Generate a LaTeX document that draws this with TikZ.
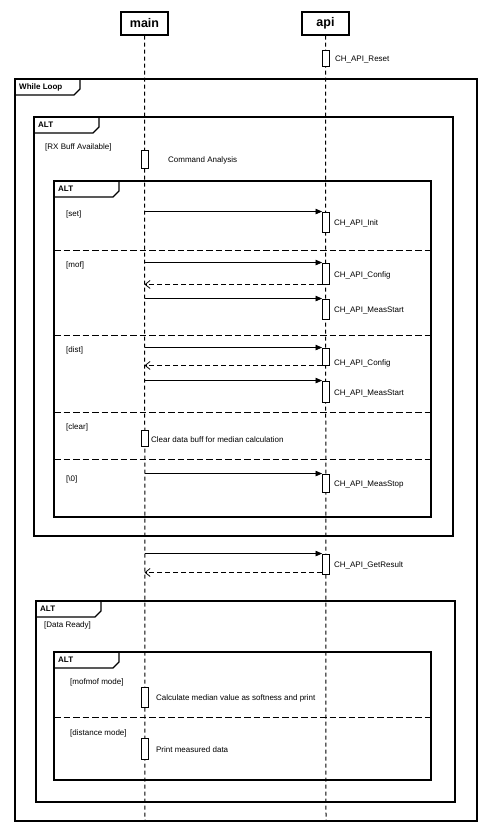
\documentclass[tikz,border=0pt]{standalone}
\usepackage{fontspec}
\setmainfont{Liberation Sans}
\usepackage{tikz}
\usetikzlibrary{arrows.meta,positioning}

\newcommand{\lblfont}{\fontsize{8}{9.5}\selectfont}

\begin{document}
\begin{tikzpicture}[x=1pt,y=-1pt,
    head/.style={draw,line width=1.1pt,minimum width=47pt,minimum height=23pt,inner sep=0pt,font=\bfseries\fontsize{12.5}{14}\selectfont},
    act/.style={draw,fill=white,line width=0.9pt,minimum width=7pt,inner sep=0pt},
    lbl/.style={inner sep=1pt,anchor=west,yshift=-1.5pt,font=\lblfont},
    guard/.style={inner sep=0pt,anchor=west,font=\lblfont},
    ftag/.style={inner sep=0pt,anchor=west,font=\bfseries\lblfont},
    life/.style={line width=1pt,dash pattern=on 4pt off 3pt},
    frm/.style={line width=1.2pt},
    sep/.style={line width=1pt,dash pattern=on 6.5pt off 3pt},
    msg/.style={line width=0.8pt,-{Triangle[length=6.5pt,width=5.5pt]}},
    ret/.style={line width=0.8pt,dash pattern=on 5pt off 3pt,-{Straight Barb[length=5pt,width=8pt]}}]
  \useasboundingbox (0,0) rectangle (495,832);

  % frames
  \foreach \fx/\fy/\gx/\gy/\ft [count=\i] in {15/79/477/821/While Loop,
      34/117/453/536/ALT, 54/181/431/517/ALT, 36/601/455/802/ALT, 54/652/431/780/ALT} {
    \draw[frm] (\fx,\fy) rectangle (\gx,\gy);
    \draw[frm] (\fx+65,\fy) -- (\fx+65,\fy+10) -- (\fx+59,\fy+16) -- (\fx,\fy+16);
    \node[ftag] (tag\i) at (\fx+4,\fy+8) {\ft};
  }
  \draw[sep] (54,250) -- (431,250);
  \draw[sep] (54,335) -- (431,335);
  \draw[sep] (54,412) -- (431,412);
  \draw[sep] (54,459) -- (431,459);
  \draw[sep] (54,717) -- (431,717);

  % guards
  \node[guard] (gRx)    at (45,147)  {[RX Buff Available]};
  \node[guard] (gSet)   at (66,214)  {[set]};
  \node[guard] (gMof)   at (66,265)  {[mof]};
  \node[guard] (gDist)  at (66,350)  {[dist]};
  \node[guard] (gClear) at (66,427)  {[clear]};
  \node[guard] (gStop)  at (66,479)  {[\textbackslash 0]};
  \node[guard] (gData)  at (44,625)  {[Data Ready]};
  \node[guard] (gMofm)  at (70,682)  {[mofmof mode]};
  \node[guard] (gDistm) at (70,733)  {[distance mode]};

  % lifelines
  \node[head] (main) at (144.5,23.5) {main};
  \node[head] (api)  at (325.5,23.5) {api};
  \coordinate (mainEnd) at (145,821);
  \coordinate (apiEnd)  at (326,821);
  \draw[life] (main.south) -- (mainEnd);
  \draw[life] (api.south) -- (apiEnd);

  % activations
  \node[act,minimum height=16pt] (reset)  at (326,58)    {};
  \node[act,minimum height=18pt] (cmd)    at (145,159)   {};
  \node[act,minimum height=20pt] (init)   at (326,222)   {};
  \node[act,minimum height=21pt] (cfgA)   at (326,273.5) {};
  \node[act,minimum height=20pt] (startA) at (326,309)   {};
  \node[act,minimum height=17pt] (cfgB)   at (326,356.5) {};
  \node[act,minimum height=21pt] (startB) at (326,391.5) {};
  \node[act,minimum height=16pt] (clr)    at (145,438)   {};
  \node[act,minimum height=18pt] (stop)   at (326,483)   {};
  \node[act,minimum height=20pt] (res)    at (326,564)   {};
  \node[act,minimum height=20pt] (calc)   at (145,697)   {};
  \node[act,minimum height=21pt] (prt)    at (145,748.5) {};

  \node[lbl,right=4pt of reset]  (lReset)  {CH\_API\_Reset};
  \node[lbl,right=18pt of cmd]   (lCmd)    {Command Analysis};
  \node[lbl,right=3pt of init]   (lInit)   {CH\_API\_Init};
  \node[lbl,right=3pt of cfgA]   (lCfgA)   {CH\_API\_Config};
  \node[lbl,right=3pt of startA] (lStartA) {CH\_API\_MeasStart};
  \node[lbl,right=3pt of cfgB,yshift=-5pt] (lCfgB) {CH\_API\_Config};
  \node[lbl,right=3pt of startB] (lStartB) {CH\_API\_MeasStart};
  \node[lbl,right=1pt of clr]    (lClr)    {Clear data buff for median calculation};
  \node[lbl,right=3pt of stop]   (lStop)   {CH\_API\_MeasStop};
  \node[lbl,right=3pt of res]    (lRes)    {CH\_API\_GetResult};
  \node[lbl,right=6pt of calc]   (lCalc)   {Calculate median value as softness and print};
  \node[lbl,right=6pt of prt]    (lPrt)    {Print measured data};

  % messages
  \coordinate (resRet) at ([yshift=2pt]res.south west);
  \draw[msg] (main |- init.north west) -- (init.north west);
  \draw[msg] (main |- cfgA.north west) -- (cfgA.north west);
  \draw[ret] (cfgA.south west) -- (main |- cfgA.south west);
  \draw[msg] (main |- startA.north west) -- (startA.north west);
  \draw[msg] (main |- cfgB.north west) -- (cfgB.north west);
  \draw[ret] (cfgB.south west) -- (main |- cfgB.south west);
  \draw[msg] (main |- startB.north west) -- (startB.north west);
  \draw[msg] (main |- stop.north west) -- (stop.north west);
  \draw[msg] (main |- res.north west) -- (res.north west);
  \draw[ret] (resRet) -- (main |- resRet);
\end{tikzpicture}
\end{document}
